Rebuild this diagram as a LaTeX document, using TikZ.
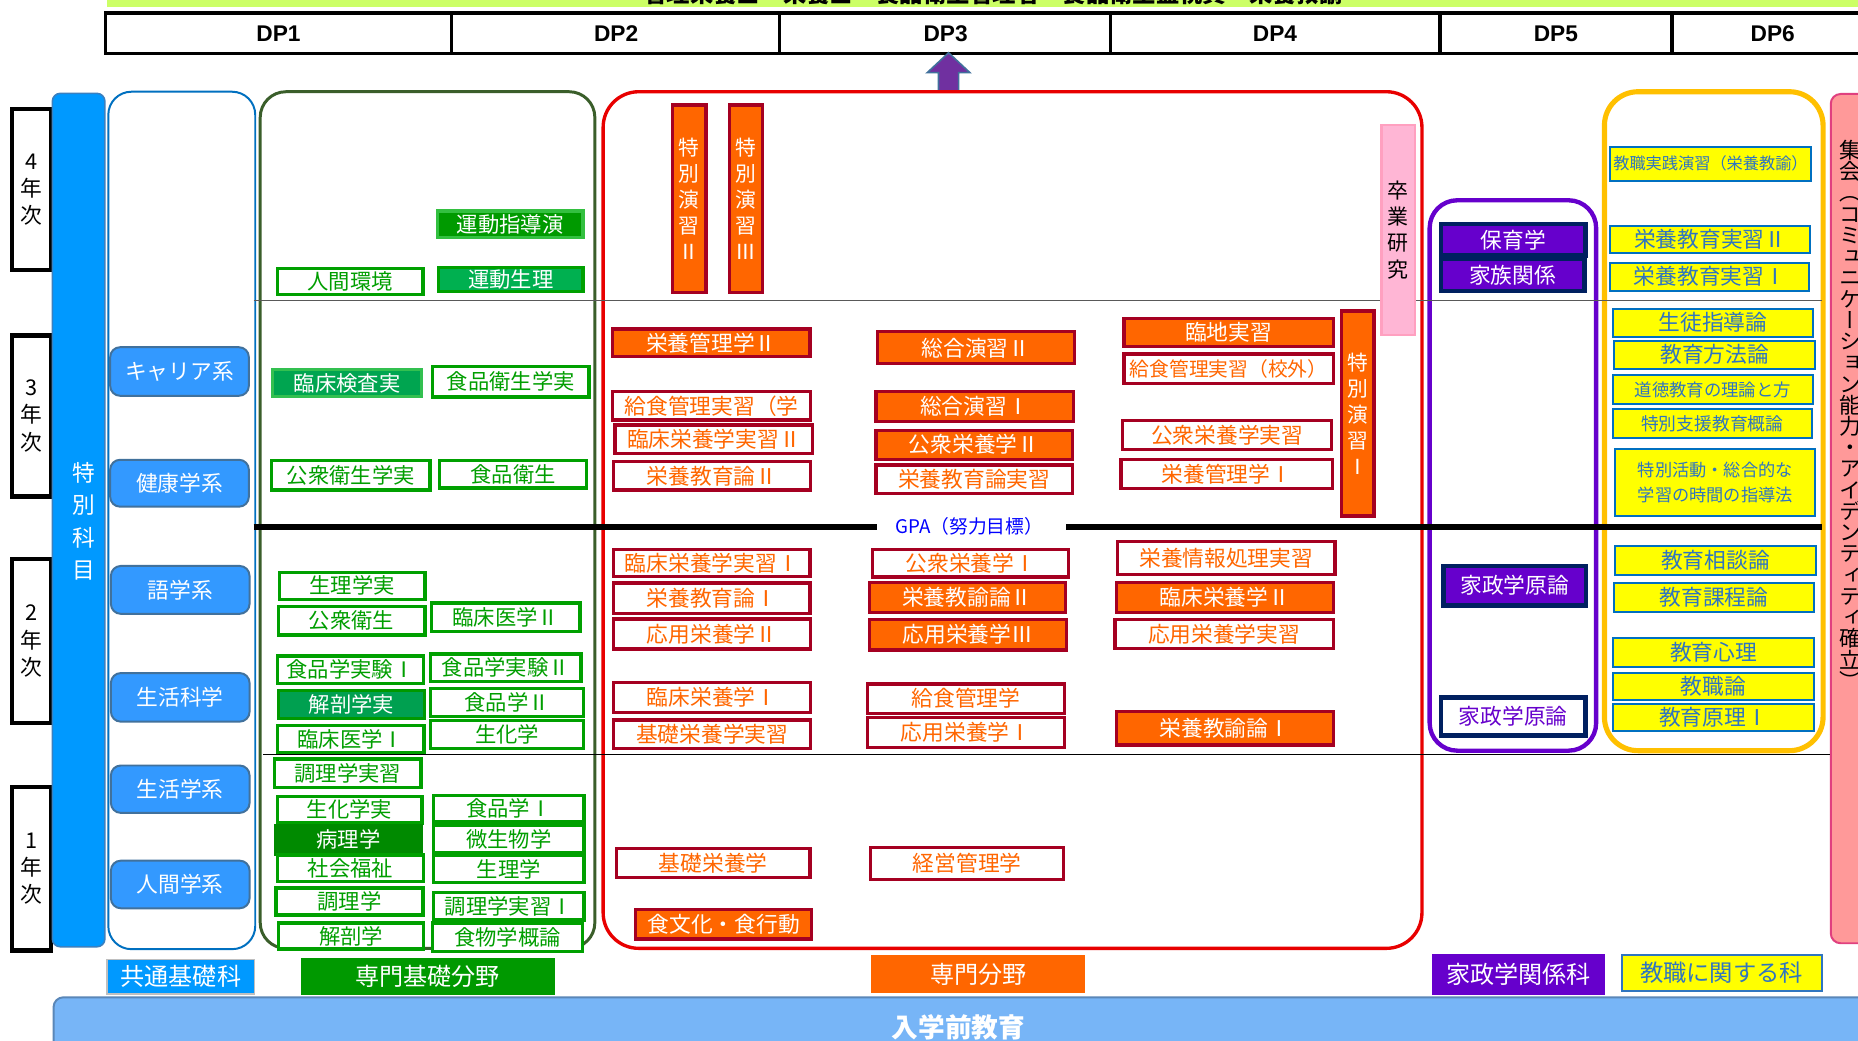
\documentclass[tikz,border=0pt]{standalone}
\usepackage{fontspec}
\setmainfont{Noto Sans CJK JP}
\newfontfamily\vjp[RawFeature=+vert]{Noto Sans CJK JP}
\newfontfamily\dpfont{Liberation Sans}
\usetikzlibrary{calc}
\definecolor{topgreen}{HTML}{CCFF66}
\definecolor{gE}{HTML}{00A000}
\definecolor{gT}{HTML}{009E00}
\definecolor{gFa}{HTML}{009A00}\definecolor{gFaE}{HTML}{33C040}
\definecolor{gFb}{HTML}{00B050}\definecolor{gFbE}{HTML}{00A000}
\definecolor{gFc}{HTML}{00A550}\definecolor{gFcE}{HTML}{33C050}
\definecolor{gFd}{HTML}{00A050}\definecolor{gFdE}{HTML}{009900}
\definecolor{gFe}{HTML}{008A00}
\definecolor{oF}{HTML}{FF6600}
\definecolor{oE}{HTML}{A50021}
\definecolor{redC}{HTML}{E80000}
\definecolor{greenC}{HTML}{3A5E2A}
\definecolor{kyoE}{HTML}{0070C0}
\definecolor{btnF}{HTML}{3399FF}
\definecolor{btnE}{HTML}{41719C}
\definecolor{tokuF}{HTML}{0099FF}
\definecolor{tokuE}{HTML}{3A80C0}
\definecolor{pF}{HTML}{6600CC}
\definecolor{pE}{HTML}{002060}
\definecolor{yellowC}{HTML}{FFC000}
\definecolor{yF}{HTML}{FFFF00}
\definecolor{yE}{HTML}{0070C0}
\definecolor{yT}{HTML}{2F75C0}
\definecolor{pinkF}{HTML}{FF9999}
\definecolor{pinkE}{HTML}{E0407F}
\definecolor{gradF}{HTML}{FFB6D5}
\definecolor{gradE}{HTML}{FFA0C0}
\definecolor{gpaC}{HTML}{0000FF}
\definecolor{barF}{HTML}{77B5F7}
\definecolor{barE}{HTML}{5A87B8}
\definecolor{arrowF}{HTML}{7030A0}
\definecolor{arrowE}{HTML}{41719C}
\definecolor{lblBlue}{HTML}{0099FF}
\definecolor{lblGreen}{HTML}{009900}

\newcommand\fs[2]{\fontsize{#1pt}{#2pt}\selectfont}
\newcommand\bx[7]{\node[#1, minimum width={((#5)-(#3))*0.6pt}, minimum height={((#6)-(#4))*0.6pt}] (#2) at ({((#3)+(#5))/2},{((#4)+(#6))/2}) {#7};}

\tikzset{
  cont/.style={rounded corners=#1, fill=none},
  gout/.style={draw=gE, line width=1.8pt, fill=white, text=gT, font=\fs{10.8}{12}},
  gfil/.style={line width=1.6pt, text=white, font=\fs{10.8}{12}},
  oout/.style={draw=oE, line width=1.6pt, fill=white, text=oF, font=\fs{11}{12}},
  ofil/.style={draw=oE, line width=1.6pt, fill=oF, text=white, font=\fs{11}{12}},
  overt/.style={draw=oE, line width=1.6pt, fill=oF, text=white, align=center, font=\fs{10.5}{13.1}},
  ybox/.style={draw=yE, line width=1pt, fill=yF, text=yT, font=\fs{11}{12}, align=center},
  pfil/.style={draw=pE, line width=2.4pt, fill=pF, text=white, font=\fs{11}{12}},
  pout/.style={draw=pE, line width=2.4pt, fill=white, text=pF, font=\fs{11}{12}},
  btn/.style={draw=btnE, line width=1pt, fill=btnF, rounded corners=5pt, text=white, font=\fs{11}{12}},
  yearbox/.style={draw=black, line width=2.2pt, fill=white, align=center, font=\fs{11}{13.8}},
  dpf/.style={font=\dpfont\bfseries\fs{11.5}{12}},
  lbl/.style={text=white, font=\fs{12.2}{13}},
  thinrule/.style={draw=black!65, line width=0.6pt},
  thickrule/.style={draw=black, line width=3pt}
}

\begin{document}
\begin{tikzpicture}[x=0.6pt,y=-0.6pt, every node/.style={inner sep=0pt, outer sep=0pt}]
\useasboundingbox (0,0) rectangle (1568,878);
\clip (0,0) rectangle (1568,878);
\fill[white] (0,0) rectangle (1568,878);

% ---- top bar and DP table
\bx{fill=topgreen}{topbar}{90}{-30}{1620}{5.6}{}
\node[anchor=base, font=\bfseries\fs{11.8}{12}] (toptext) at (838,2) {管理栄養士　栄養士　食品衛生管理者　食品衛生監視員　栄養教諭};
\draw[line width=1.8pt] (89,11) rectangle (1625,45);
\foreach \xx in {381,658,937,1215,1411} \draw[line width=1.8pt] (\xx,11) -- (\xx,45);
\node[dpf] (dp1) at (235,28.5) {DP1};
\node[dpf] (dp2) at (520,28.5) {DP2};
\node[dpf] (dp3) at (798,28.5) {DP3};
\node[dpf] (dp4) at (1076,28.5) {DP4};
\node[dpf] (dp5) at (1313,28.5) {DP5};
\node[dpf] (dp6) at (1496,28.5) {DP6};

% ---- arrow
\coordinate (arrtip) at (800.5,44.5);
\coordinate (arrbase) at (800.5,77.4);
\draw[fill=arrowF, draw=arrowE, line width=0.8pt] ($(arrbase)+(-8.5,0)$) -- ($(arrtip)+(-8.5,16.8)$) -- ($(arrtip)+(-18,16.8)$) -- (arrtip) -- ($(arrtip)+(18,16.8)$) -- ($(arrtip)+(8.5,16.8)$) -- ($(arrbase)+(8.5,0)$) -- cycle;

% ---- year boxes
\bx{yearbox}{yr4}{10}{92}{43}{228}{4\\年\\次}
\bx{yearbox}{yr3}{10}{283}{43}{419}{3\\年\\次}
\bx{yearbox}{yr2}{10}{472}{43}{610}{2\\年\\次}
\bx{yearbox}{yr1}{10}{664}{43}{802}{1\\年\\次}

% ---- special subjects column
\bx{fill=tokuF, draw=tokuE, line width=0.8pt, rounded corners=4pt}{tokucol}{44.2}{78.8}{88.5}{799}{}
\node[text=white, align=center, font=\fs{11.5}{16.5}] (tokutext) at (70.5,440) {特\\別\\科\\目};

% ---- containers
\bx{cont=11.7pt, draw=kyoE, line width=1pt}{kyotsu}{91.4}{77.4}{215.4}{801}{}
\bx{cont=13pt, draw=greenC, line width=1.5pt}{senkiso}{219.6}{77.4}{502}{800.3}{}
\bx{cont=18pt, draw=redC, line width=1.7pt}{senmon}{509}{77.4}{1200}{800.3}{}
\bx{cont=14pt, draw=pF, line width=2.2pt}{kasei}{1206.5}{169}{1347}{633.5}{}
\bx{cont=17pt, draw=yellowC, line width=2.6pt}{kyoshoku}{1354}{77.4}{1538.5}{633.5}{}
\bx{fill=pinkF, draw=pinkE, line width=1pt, rounded corners=5pt}{pinkcol}{1545}{79.3}{1625}{796}{}
\node[align=center, font=\vjp\fs{11}{10.75}] (pinktext) at (1561.5,350) {集\\会\\（\\コ\\ミ\\ュ\\ニ\\ケ\\ー\\シ\\ョ\\ン\\能\\力\\・\\ア\\イ\\デ\\ン\\テ\\ィ\\テ\\ィ\\確\\立\\）};

% ---- rules
\draw[thinrule] (214,253.7) -- (1538,253.7);
\draw[thinrule, draw=black] (222,636.5) -- (1544,636.5);
\draw[thickrule] (214,444.5) -- (740,444.5);
\draw[thickrule] (900,444.5) -- (1538,444.5);
\node[text=gpaC, font=\fs{9.5}{11}] (gpa) at (818,444.5) {GPA（努力目標）};

% ---- common basic buttons
\bx{btn}{b1}{93}{293}{210}{334}{キャリア系}
\bx{btn}{b2}{93}{388}{210}{427.6}{健康学系}
\bx{btn}{b3}{93.6}{477.6}{210.6}{518}{語学系}
\bx{btn}{b4}{93.6}{568}{210.6}{609}{生活科学}
\bx{btn}{b5}{93.6}{646}{210.6}{686}{生活学系}
\bx{btn}{b6}{93.6}{726.3}{210.6}{766.5}{人間学系}

% ---- green boxes
\bx{gfil, fill=gFa, draw=gFaE}{g1}{369}{178}{492}{200.6}{運動指導演}
\bx{gout}{g2}{234}{226.4}{357}{248.4}{人間環境}
\bx{gfil, fill=gFb, draw=gFbE}{g3}{370}{226}{492}{246}{運動生理}
\bx{gfil, fill=gFc, draw=gFcE}{g4}{230}{311.7}{356}{334.8}{臨床検査実}
\bx{gout}{g5}{365}{309.4}{497}{334.8}{食品衛生学実}
\bx{gout}{g6}{229}{388.8}{363}{413.5}{公衆衛生学実}
\bx{gout}{g7}{371}{388.8}{495}{412}{食品衛生}
\bx{gout}{g8}{236}{483}{358.5}{505.8}{生理学実}
\bx{gout}{g9}{235}{512}{358.5}{536}{公衆衛生}
\bx{gout}{g10}{364.3}{509}{489.6}{533}{臨床医学Ⅱ}
\bx{gout}{g11}{234}{553.6}{357.5}{576.7}{食品学実験Ⅰ}
\bx{gout}{g12}{363.3}{552}{490.3}{575}{食品学実験Ⅱ}
\bx{gfil, fill=gFd, draw=gFdE}{g13}{235}{582.8}{358.5}{606.2}{解剖学実}
\bx{gout}{g14}{363.3}{581}{492.5}{604.8}{食品学Ⅱ}
\bx{gout}{g15}{234}{612.4}{358}{634.9}{臨床医学Ⅰ}
\bx{gout}{g16}{363.3}{608.2}{492.5}{631.5}{生化学}
\bx{gout}{g17}{231.6}{640.5}{355.3}{664.4}{調理学実習}
\bx{gout}{g18}{234}{672.3}{356}{694.3}{生化学実}
\bx{gout}{g19}{366}{671.2}{493}{693.7}{食品学Ⅰ}
\bx{gfil, fill=gFe, draw=gFe}{g20}{232.5}{696.5}{355.9}{720.7}{病理学}
\bx{gout}{g21}{366}{696.2}{493}{720}{微生物学}
\bx{gout}{g22}{234}{721.5}{357.5}{744}{社会福祉}
\bx{gout}{g23}{366}{722}{493}{744.6}{生理学}
\bx{gout}{g24}{233}{749.6}{357}{772}{調理学}
\bx{gout}{g25}{366}{753}{493}{776.4}{調理学実習Ⅰ}
\bx{gout}{g26}{235}{779}{357.5}{801}{解剖学}
\bx{gout}{g27}{365}{779}{491.6}{803}{食物学概論}

% ---- orange boxes, column A
\bx{overt}{o1}{567.7}{88.6}{595.8}{247}{特\\別\\演\\習\\Ⅱ}
\bx{overt}{o2}{615.5}{88.6}{643.5}{247}{特\\別\\演\\習\\Ⅲ}
\bx{ofil}{o3}{517}{277.6}{683.5}{301}{栄養管理学Ⅱ}
\bx{oout}{o4}{517}{330.5}{684}{354.5}{給食管理実習（学}
\bx{oout}{o5}{519}{358.6}{686}{383}{臨床栄養学実習Ⅱ}
\bx{oout}{o6}{518}{389.6}{684}{413.5}{栄養教育論Ⅱ}
\bx{oout}{o7}{518}{463.6}{683.5}{486.7}{臨床栄養学実習Ⅰ}
\bx{oout}{o8}{518}{492}{683.5}{517.6}{栄養教育論Ⅰ}
\bx{oout}{o9}{518}{522.4}{684}{547.7}{応用栄養学Ⅱ}
\bx{oout}{o10}{518}{576}{684}{601.4}{臨床栄養学Ⅰ}
\bx{oout}{o11}{518}{607.6}{684}{631.5}{基礎栄養学実習}
\bx{oout}{o12}{520.4}{716}{683.5}{740.6}{基礎栄養学}
\bx{ofil}{o13}{536.5}{767.4}{685}{792.4}{食文化・食行動}
% column B
\bx{ofil}{o14}{740.4}{280}{907}{307}{総合演習Ⅱ}
\bx{ofil}{o15}{739.2}{330.5}{905.6}{355.8}{総合演習Ⅰ}
\bx{ofil}{o16}{739.2}{363}{905}{387.6}{公衆栄養学Ⅱ}
\bx{oout}{o17}{739.2}{392.4}{905}{416.3}{栄養教育論実習}
\bx{oout}{o18}{736.5}{463.5}{902}{486.9}{公衆栄養学Ⅰ}
\bx{ofil}{o19}{733.6}{491.7}{899}{516.7}{栄養教諭論Ⅱ}
\bx{ofil}{o20}{733.6}{522.7}{900}{548.5}{応用栄養学Ⅲ}
\bx{oout}{o21}{732}{577.2}{898.6}{602}{給食管理学}
\bx{oout}{o22}{732}{605.3}{898.6}{630.6}{応用栄養学Ⅰ}
\bx{oout}{o23}{734.8}{715}{897.7}{742}{経営管理学}
% column C
\bx{ofil}{o24}{948.5}{269}{1125}{292.6}{臨地実習}
\bx{oout, font=\fs{10}{12}}{o25}{948.5}{298.7}{1125}{323.5}{給食管理実習（校外）}
\bx{oout}{o26}{947.4}{355}{1124}{379}{公衆栄養学実習}
\bx{oout}{o27}{946}{388}{1124.6}{412}{栄養管理学Ⅰ}
\bx{oout}{o28}{943}{457}{1126.6}{484.7}{栄養情報処理実習}
\bx{ofil}{o29}{942.4}{491.7}{1125}{517}{臨床栄養学Ⅱ}
\bx{oout}{o30}{941}{522.7}{1125}{547.4}{応用栄養学実習}
\bx{ofil}{o31}{942.4}{600.6}{1125}{628.7}{栄養教諭論Ⅰ}
\bx{overt}{o32}{1132}{262.5}{1159.5}{435.5}{特\\別\\演\\習\\Ⅰ}
\bx{fill=gradF, draw=gradE, line width=1.2pt, align=center, font=\fs{10.6}{13.2}}{grad}{1166}{105.5}{1194}{282.7}{卒\\業\\研\\究}

% ---- purple boxes
\bx{pfil}{p1}{1216}{189}{1338}{215.8}{保育学}
\bx{pfil}{p2}{1216}{218.6}{1337}{245.6}{家族関係}
\bx{pfil}{p3}{1218}{477.6}{1338.5}{510.8}{家政学原論}
\bx{pout}{p4}{1216}{588.5}{1338}{620.5}{家政学原論}

% ---- yellow boxes
\bx{ybox, font=\fs{8.2}{10}}{y1}{1359}{124}{1528}{152.5}{教職実践演習（栄養教諭）}
\bx{ybox}{y2}{1359}{190.7}{1527.5}{213.8}{栄養教育実習Ⅱ}
\bx{ybox}{y3}{1359}{221.7}{1527}{245.3}{栄養教育実習Ⅰ}
\bx{ybox}{y4}{1361}{260.5}{1530}{284}{生徒指導論}
\bx{ybox}{y5}{1362}{287.5}{1532}{311}{教育方法論}
\bx{ybox, font=\fs{8.8}{10}}{y6}{1361}{316.5}{1530}{341}{道徳教育の理論と方}
\bx{ybox, font=\fs{9}{10}}{y7}{1361}{345}{1529}{369.4}{特別支援教育概論}
\bx{ybox, font=\fs{8.7}{12.5}}{y8}{1363}{379}{1532}{435.4}{特別活動・総合的な\\学習の時間の指導法}
\bx{ybox}{y9}{1363}{460.8}{1532.5}{485.5}{教育相談論}
\bx{ybox}{y10}{1362}{491.7}{1531}{516.5}{教育課程論}
\bx{ybox}{y11}{1361}{538.4}{1531}{562.6}{教育心理}
\bx{ybox}{y12}{1361}{568.2}{1531}{590.7}{教職論}
\bx{ybox}{y13}{1361}{594}{1531}{617}{教育原理Ⅰ}

% ---- bottom labels
\bx{lbl, fill=lblBlue, draw=black!25, line width=0.8pt}{l1}{90.5}{809.6}{214.8}{838.8}{共通基礎科}
\bx{lbl, fill=lblGreen}{l2}{254}{808.7}{468}{839.7}{専門基礎分野}
\bx{lbl, fill=oF}{l3}{735}{806}{916}{838.2}{専門分野}
\bx{lbl, fill=pF}{l4}{1208.5}{805}{1354.5}{839.7}{家政学関係科}
\bx{lbl, fill=yF, draw=yT, line width=1pt, text=yT, font=\fs{11.8}{13}}{l5}{1368.5}{806}{1537.3}{836}{教職に関する科}

% ---- bottom bar
\bx{fill=barF, draw=barE, line width=1pt, rounded corners=5pt}{bar}{45.2}{841.6}{1625}{920}{}
\node[text=white, font=\bfseries\fs{13.5}{14}] (bartext) at (809,867) {入学前教育};
\end{tikzpicture}
\end{document}
